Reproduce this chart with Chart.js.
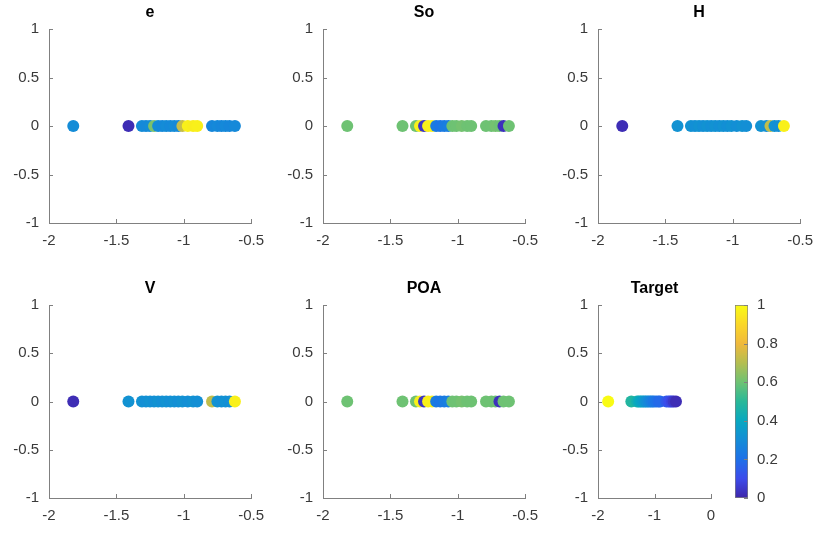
<!DOCTYPE html>
<html>
<head>
<meta charset="utf-8">
<script src="https://cdn.jsdelivr.net/npm/chart.js@4.4.1/dist/chart.umd.min.js"></script>
<style>
  body { margin: 0; background: #fff; width: 823px; height: 536px; position: relative; overflow: hidden; }
  .panel { position: absolute; }
</style>
</head>
<body>
<div class="panel" style="left:0px;top:0px;width:273px;height:251px"><canvas id="c-e"></canvas></div>
<div class="panel" style="left:274px;top:0px;width:273px;height:251px"><canvas id="c-so"></canvas></div>
<div class="panel" style="left:549px;top:0px;width:273px;height:251px"><canvas id="c-h"></canvas></div>
<div class="panel" style="left:0px;top:276px;width:273px;height:250px"><canvas id="c-v"></canvas></div>
<div class="panel" style="left:274px;top:276px;width:273px;height:250px"><canvas id="c-poa"></canvas></div>
<div class="panel" style="left:549px;top:276px;width:182px;height:250px"><canvas id="c-target"></canvas></div>
<div class="panel" style="left:735px;top:276px;width:50px;height:250px"><canvas id="c-bar"></canvas></div>
<script>
// shared x positions of the samples (all points sit on y = 0)
const xValues = [-1.82, -1.41, -1.31, -1.28, -1.25, -1.22, -1.19, -1.16, -1.13, -1.10, -1.07,
                 -1.04, -1.01, -0.97, -0.93, -0.90, -0.79, -0.75, -0.72, -0.69, -0.66, -0.62];

// colour value (0..1) of each point, per panel
const eColor      = [0.30, 0.02, 0.30, 0.29, 0.30, 0.62, 0.30, 0.29, 0.30, 0.29, 0.30,
                     0.29, 0.73, 0.97, 0.96, 0.97, 0.28, 0.29, 0.28, 0.29, 0.28, 0.29];
const soColor     = [0.60, 0.60, 0.60, 0.97, 0.04, 0.97, 0.97, 0.24, 0.22, 0.24, 0.25,
                     0.60, 0.60, 0.61, 0.60, 0.60, 0.60, 0.60, 0.61, 0.60, 0.03, 0.60];
const hColor      = [0.02, 0.32, 0.32, 0.31, 0.32, 0.31, 0.32, 0.31, 0.32, 0.31, 0.32,
                     0.31, 0.32, 0.31, 0.32, 0.31, 0.32, 0.31, 0.72, 0.32, 0.31, 0.97];
const vColor      = [0.02, 0.32, 0.32, 0.31, 0.32, 0.31, 0.32, 0.31, 0.32, 0.31, 0.32,
                     0.31, 0.32, 0.31, 0.32, 0.31, 0.72, 0.32, 0.31, 0.32, 0.31, 0.97];
const poaColor    = [0.60, 0.60, 0.60, 0.97, 0.04, 0.97, 0.97, 0.24, 0.22, 0.24, 0.25,
                     0.60, 0.60, 0.61, 0.60, 0.60, 0.60, 0.60, 0.60, 0.03, 0.60, 0.60];
const targetColor = [1.00, 0.48, 0.45, 0.42, 0.40, 0.38, 0.36, 0.33, 0.31, 0.29, 0.27,
                     0.25, 0.23, 0.21, 0.19, 0.18, 0.14, 0.12, 0.10, 0.08, 0.05, 0.02];

const yTicks = [-1, -0.5, 0, 0.5, 1];
const barTicks = [0, 0.2, 0.4, 0.6, 0.8, 1];

// rough parula colormap
const parulaStops = [
  [62, 38, 168], [60, 75, 235], [30, 112, 232], [20, 140, 215], [8, 168, 192],
  [40, 184, 152], [110, 194, 115], [180, 190, 80], [240, 185, 60], [250, 215, 40], [249, 251, 20]
];
function parula(v) {
  const t = Math.max(0, Math.min(1, v)) * (parulaStops.length - 1);
  const i = Math.min(Math.floor(t), parulaStops.length - 2);
  const f = t - i;
  const a = parulaStops[i], b = parulaStops[i + 1];
  const c = a.map((n, k) => Math.round(n + (b[k] - n) * f));
  return `rgb(${c[0]},${c[1]},${c[2]})`;
}

const FONT = "'Liberation Sans', Arial, sans-serif";
const AXIS = '#808080';
const LABEL = '#3a3a3a';
const plain = v => String(Math.round(v * 100) / 100);

// inward tick marks + panel title centred on the plot area
const panelDeco = {
  id: 'panelDeco',
  afterDraw(chart, args, opts) {
    const ctx = chart.ctx;
    ctx.save();
    ctx.strokeStyle = AXIS;
    ctx.lineWidth = 1;
    const xs = chart.scales.x, ys = chart.scales.y;
    if (xs && xs.options.display) {
      xs.ticks.forEach((t, i) => {
        const px = Math.round(xs.getPixelForTick(i)) + 0.5;
        ctx.beginPath(); ctx.moveTo(px, xs.top); ctx.lineTo(px, xs.top - 4); ctx.stroke();
      });
    }
    if (ys) {
      ys.ticks.forEach((t, i) => {
        const py = Math.round(ys.getPixelForTick(i)) + 0.5;
        ctx.beginPath();
        if (ys.position === 'right') { ctx.moveTo(ys.left, py); ctx.lineTo(ys.left - 4, py); }
        else { ctx.moveTo(ys.right, py); ctx.lineTo(ys.right + 4, py); }
        ctx.stroke();
      });
    }
    if (opts.title) {
      const a = chart.chartArea;
      ctx.fillStyle = '#000';
      ctx.font = `bold 16px ${FONT}`;
      ctx.textAlign = 'center';
      ctx.textBaseline = 'middle';
      ctx.fillText(opts.title, (a.left + a.right) / 2, a.top - 16);
    }
    ctx.restore();
  }
};

function scatterPanel(id, title, colors, xMax, xStep) {
  const pts = xValues.map(x => ({ x: x, y: 0 }));
  const cols = colors.map(parula);
  new Chart(document.getElementById(id), {
    type: 'scatter',
    data: { datasets: [{ data: pts, backgroundColor: cols, borderColor: cols, borderWidth: 0, pointRadius: 6, pointHoverRadius: 6 }] },
    options: {
      responsive: true,
      maintainAspectRatio: false,
      animation: false,
      layout: { padding: { top: 29, right: 20, left: 0, bottom: 0 } },
      plugins: { legend: { display: false }, tooltip: { enabled: false }, panelDeco: { title: title } },
      scales: {
        x: {
          type: 'linear', min: -2, max: xMax,
          grid: { display: false, drawTicks: false },
          border: { display: true, color: AXIS },
          ticks: { stepSize: xStep, padding: 9, color: LABEL, font: { family: FONT, size: 15 }, callback: plain },
          afterFit: s => { s.height = 28; }
        },
        y: {
          min: -1, max: 1,
          grid: { display: false, drawTicks: false },
          border: { display: true, color: AXIS },
          afterBuildTicks: s => { s.ticks = yTicks.map(v => ({ value: v })); },
          ticks: { padding: 10, color: LABEL, font: { family: FONT, size: 15 }, callback: plain },
          afterFit: s => { s.width = 49; }
        }
      }
    },
    plugins: [panelDeco]
  });
}

scatterPanel('c-e', 'e', eColor, -0.5, 0.5);
scatterPanel('c-so', 'So', soColor, -0.5, 0.5);
scatterPanel('c-h', 'H', hColor, -0.5, 0.5);
scatterPanel('c-v', 'V', vColor, -0.5, 0.5);
scatterPanel('c-poa', 'POA', poaColor, -0.5, 0.5);
scatterPanel('c-target', 'Target', targetColor, 0, 1);

// colorbar
new Chart(document.getElementById('c-bar'), {
  type: 'bar',
  data: {
    labels: [''],
    datasets: [{
      data: [1],
      backgroundColor: ctx => {
        const a = ctx.chart.chartArea;
        if (!a) return parula(0.5);
        const g = ctx.chart.ctx.createLinearGradient(0, a.bottom, 0, a.top);
        for (let i = 0; i <= 40; i++) g.addColorStop(i / 40, parula(i / 40));
        return g;
      },
      borderColor: AXIS, borderWidth: 1, borderSkipped: false,
      barPercentage: 1, categoryPercentage: 1
    }]
  },
  options: {
    responsive: true,
    maintainAspectRatio: false,
    animation: false,
    layout: { padding: { top: 29, bottom: 28, left: 0, right: 0 } },
    plugins: { legend: { display: false }, tooltip: { enabled: false }, panelDeco: {} },
    scales: {
      x: { display: false },
      y: {
        position: 'right', min: 0, max: 1,
        grid: { display: false, drawTicks: false },
        border: { display: false },
        afterBuildTicks: s => { s.ticks = barTicks.map(v => ({ value: v })); },
        ticks: { padding: 9, color: LABEL, font: { family: FONT, size: 15 }, callback: plain },
        afterFit: s => { s.width = 37; }
      }
    }
  },
  plugins: [panelDeco]
});
</script>
</body>
</html>
